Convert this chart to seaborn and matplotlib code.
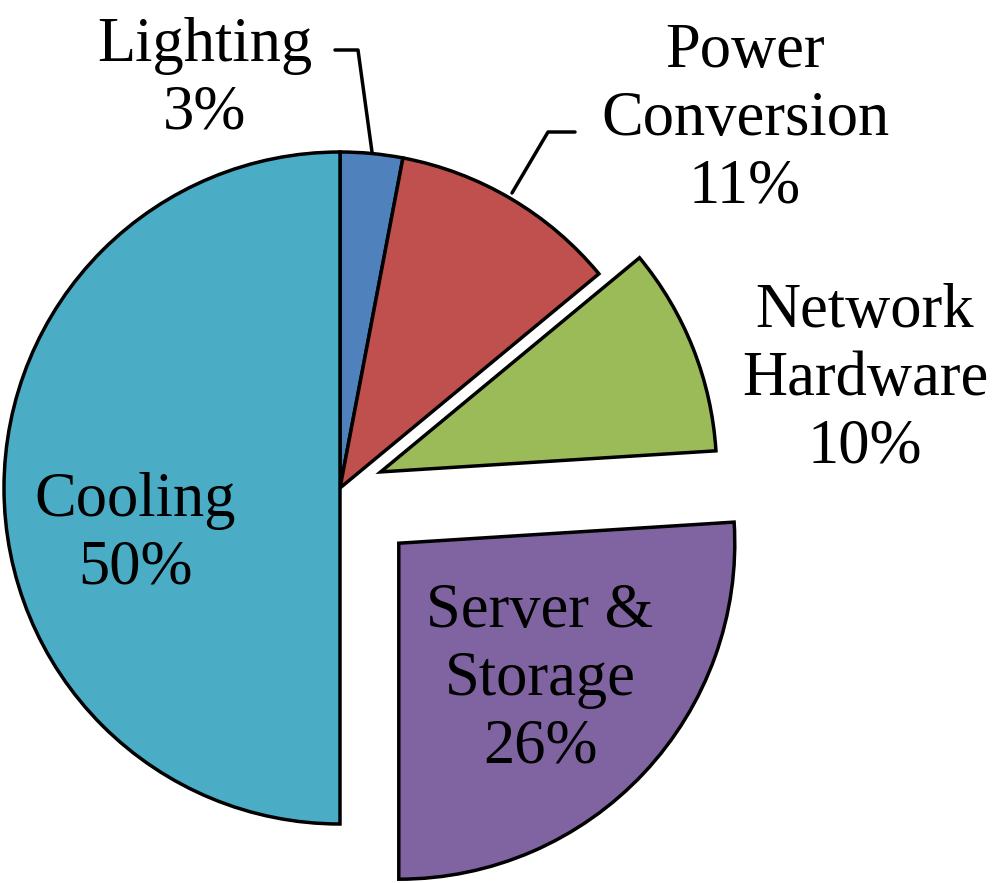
import matplotlib
matplotlib.use("Agg")
import matplotlib.pyplot as plt
import seaborn as sns

# data
categories = ['Lighting', 'Power\nConversion', 'Network\nHardware', 'Server &\nStorage', 'Cooling']
shares = [3, 11, 10, 26, 50]
explode = [0, 0, 0.13, 0.24, 0]
colors = ['#4F81BD', '#C0504D', '#9BBB59', '#8064A2', '#4BACC6']

sns.set_theme(style="white")
plt.rcParams['font.family'] = ['Liberation Serif', 'DejaVu Serif']

W, H = 1008, 883
fig = plt.figure(figsize=(W / 100, H / 100), dpi=100)
ax = fig.add_axes([0, 0, 1, 1])

# pie in pixel coordinates (explode offsets are absolute, so scale by radius)
cx, cy, r = 340, H - 488, 336
ax.pie(shares, explode=[e * r for e in explode], colors=colors, startangle=90,
       counterclock=False, radius=r, center=(cx, cy),
       wedgeprops=dict(edgecolor='black', linewidth=2.5))
ax.set_xlim(0, W)
ax.set_ylim(0, H)
ax.set_aspect('equal')
ax.axis('off')

# labels
label_pos = [(205, 80), (745, 120), (865, 380), (540, 680), (135, 535)]
for name, val, (px, py) in zip(categories, shares, label_pos):
    ax.text(px, H - py, f"{name}\n{val}%", ha='center', va='center',
            fontsize=45, linespacing=1.22, color='black')

# leader lines
ax.plot([335, 358, 372], [H - 50, H - 50, H - 152], color='black', lw=2.5)
ax.plot([575, 548, 512], [H - 132, H - 132, H - 193], color='black', lw=2.5)

fig.savefig('out.png', dpi=100)
